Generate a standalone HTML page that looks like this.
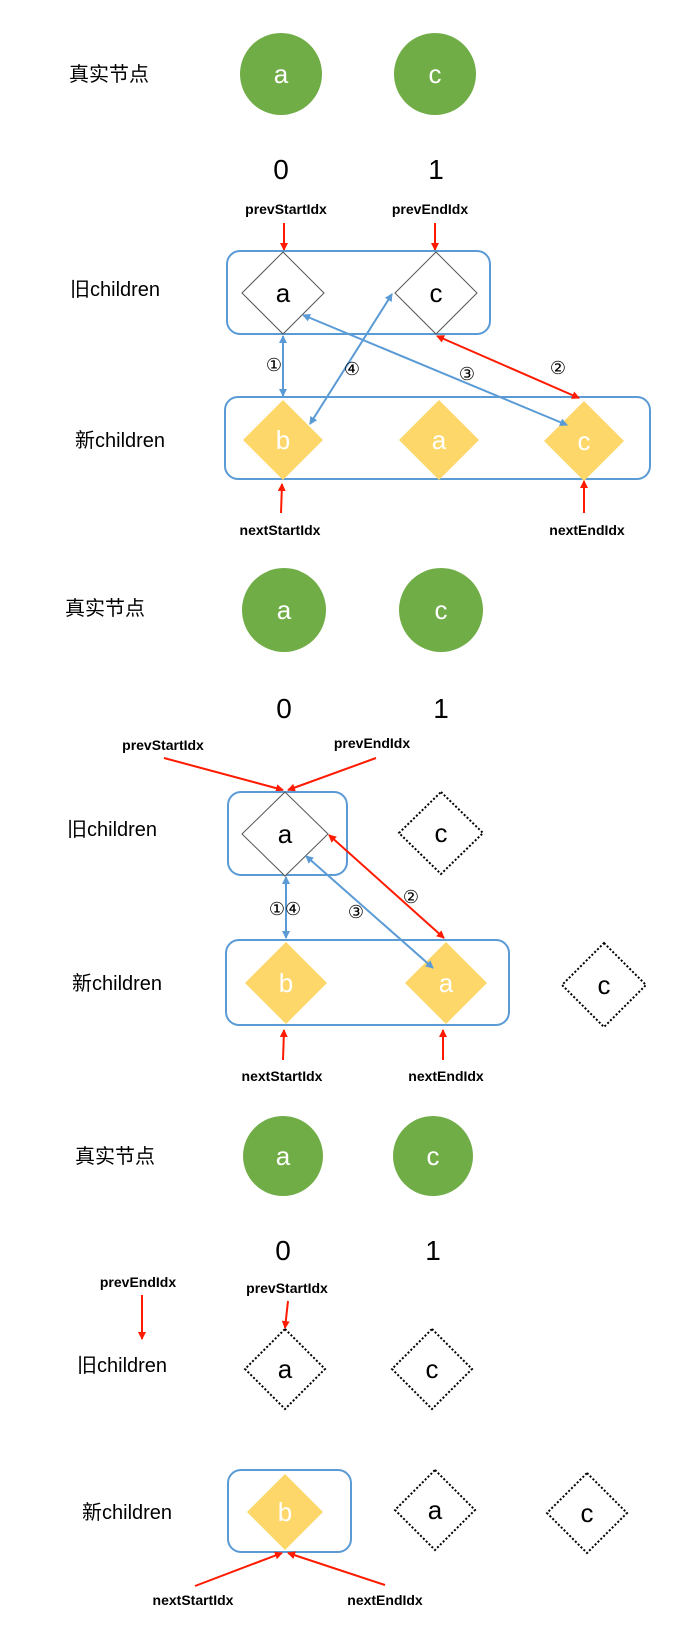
<!DOCTYPE html>
<html><head><meta charset="utf-8"><style>
html,body{margin:0;padding:0;background:#fff;}
svg{display:block;}
.cn{font-family:"Liberation Sans","Noto Sans CJK SC",sans-serif;font-size:20px;fill:#000;}
.lb{font-family:"Liberation Sans",sans-serif;font-weight:bold;font-size:14px;fill:#000;text-anchor:middle;}
.num{font-family:"Liberation Sans",sans-serif;font-size:28px;fill:#000;text-anchor:middle;}
.wt{font-family:"Liberation Sans",sans-serif;font-size:26px;fill:#fff;text-anchor:middle;}
.bk{font-family:"Liberation Sans",sans-serif;font-size:26px;fill:#000;text-anchor:middle;}
.ci{font-family:"DejaVu Sans","Noto Sans CJK SC",sans-serif;font-size:18px;fill:#000;text-anchor:middle;}
.box{fill:none;stroke:#5b9bd5;stroke-width:2;}
.od{fill:#fff;stroke:#555;stroke-width:1;}
.dd{fill:#fff;stroke:#000;stroke-width:2;stroke-dasharray:2 2;}
.yd{fill:#fdd76a;}
.r{stroke:#ff1a00;stroke-width:2;fill:none;}
.b{stroke:#5b9bd5;stroke-width:2;fill:none;}
</style></head><body>
<svg width="690" height="1649" viewBox="0 0 690 1649" xmlns="http://www.w3.org/2000/svg">
<defs>
<marker id="ar" markerWidth="8" markerHeight="8" refX="7" refY="4" orient="auto" markerUnits="userSpaceOnUse"><path d="M0,0 L8,4 L0,8 z" fill="#ff1a00"/></marker>
<marker id="ab" markerWidth="8" markerHeight="8" refX="7" refY="4" orient="auto" markerUnits="userSpaceOnUse"><path d="M0,0 L8,4 L0,8 z" fill="#5b9bd5"/></marker>
<marker id="abs" markerWidth="8" markerHeight="8" refX="1" refY="4" orient="auto" markerUnits="userSpaceOnUse"><path d="M8,0 L0,4 L8,8 z" fill="#5b9bd5"/></marker>
<marker id="ars" markerWidth="8" markerHeight="8" refX="1" refY="4" orient="auto" markerUnits="userSpaceOnUse"><path d="M8,0 L0,4 L8,8 z" fill="#ff1a00"/></marker>
</defs>

<!-- Section 1 -->
<text class="cn" x="69" y="81">真实节点</text>
<circle cx="281" cy="74" r="41" fill="#70ad47"/><text class="wt" x="281" y="83">a</text>
<circle cx="435" cy="74" r="41" fill="#70ad47"/><text class="wt" x="435" y="83">c</text>
<text class="num" x="281" y="179">0</text><text class="num" x="436" y="179">1</text>
<text class="lb" x="286" y="214">prevStartIdx</text>
<text class="lb" x="430" y="214">prevEndIdx</text>
<line class="r" x1="284" y1="223" x2="284" y2="250" marker-end="url(#ar)"/>
<line class="r" x1="435" y1="223" x2="435" y2="250" marker-end="url(#ar)"/>
<text class="cn" x="70" y="296">旧children</text>
<rect class="box" x="227" y="251" width="263" height="83" rx="13"/>
<polygon class="od" points="283,252 324,293 283,334 242,293"/><text class="bk" x="283" y="302">a</text>
<polygon class="od" points="436,252 477,293 436,334 395,293"/><text class="bk" x="436" y="302">c</text>
<text class="cn" x="75" y="447">新children</text>
<rect class="box" x="225" y="397" width="425" height="82" rx="13"/>
<polygon class="yd" points="283,400 323,440 283,480 243,440"/><text class="wt" x="283" y="449">b</text>
<polygon class="yd" points="439,400 479,440 439,480 399,440"/><text class="wt" x="439" y="449">a</text>
<polygon class="yd" points="584,401 624,441 584,481 544,441"/><text class="wt" x="584" y="450">c</text>
<line class="b" x1="283" y1="336" x2="283" y2="396" marker-start="url(#abs)" marker-end="url(#ab)"/>
<line class="b" x1="392" y1="294" x2="310" y2="424" marker-start="url(#abs)" marker-end="url(#ab)"/>
<line class="b" x1="303" y1="315" x2="567" y2="425" marker-start="url(#abs)" marker-end="url(#ab)"/>
<line class="r" x1="437" y1="336" x2="579" y2="398" marker-start="url(#ars)" marker-end="url(#ar)"/>
<text class="ci" x="274" y="371">①</text>
<text class="ci" x="352" y="375">④</text>
<text class="ci" x="467" y="380">③</text>
<text class="ci" x="558" y="374">②</text>
<line class="r" x1="281" y1="513" x2="282" y2="484" marker-end="url(#ar)"/>
<line class="r" x1="584" y1="513" x2="584" y2="481" marker-end="url(#ar)"/>
<text class="lb" x="280" y="535">nextStartIdx</text>
<text class="lb" x="587" y="535">nextEndIdx</text>

<!-- Section 2 -->
<text class="cn" x="65" y="615">真实节点</text>
<circle cx="284" cy="610" r="42" fill="#70ad47"/><text class="wt" x="284" y="619">a</text>
<circle cx="441" cy="610" r="42" fill="#70ad47"/><text class="wt" x="441" y="619">c</text>
<text class="num" x="284" y="718">0</text><text class="num" x="441" y="718">1</text>
<text class="lb" x="163" y="750">prevStartIdx</text>
<text class="lb" x="372" y="748">prevEndIdx</text>
<line class="r" x1="164" y1="758" x2="283" y2="790" marker-end="url(#ar)"/>
<line class="r" x1="376" y1="758" x2="288" y2="790" marker-end="url(#ar)"/>
<text class="cn" x="67" y="836">旧children</text>
<rect class="box" x="228" y="792" width="119" height="83" rx="13"/>
<polygon class="od" points="285,792 328,834 285,876 242,834"/><text class="bk" x="285" y="843">a</text>
<polygon class="dd" points="441,792 483,833 441,874 399,833"/><text class="bk" x="441" y="842">c</text>
<text class="cn" x="72" y="990">新children</text>
<rect class="box" x="226" y="940" width="283" height="85" rx="13"/>
<polygon class="yd" points="286,942 327,983 286,1024 245,983"/><text class="wt" x="286" y="992">b</text>
<polygon class="yd" points="446,942 487,983 446,1024 405,983"/><text class="wt" x="446" y="992">a</text>
<polygon class="dd" points="604,943 646,985 604,1027 562,985"/><text class="bk" x="604" y="994">c</text>
<line class="b" x1="286" y1="877" x2="286" y2="938" marker-start="url(#abs)" marker-end="url(#ab)"/>
<line class="b" x1="306" y1="856" x2="433" y2="968" marker-start="url(#abs)" marker-end="url(#ab)"/>
<line class="r" x1="329" y1="835" x2="444" y2="938" marker-start="url(#ars)" marker-end="url(#ar)"/>
<text class="ci" x="285" y="915">①④</text>
<text class="ci" x="356" y="918">③</text>
<text class="ci" x="411" y="903">②</text>
<line class="r" x1="283" y1="1060" x2="284" y2="1030" marker-end="url(#ar)"/>
<line class="r" x1="443" y1="1060" x2="443" y2="1030" marker-end="url(#ar)"/>
<text class="lb" x="282" y="1081">nextStartIdx</text>
<text class="lb" x="446" y="1081">nextEndIdx</text>

<!-- Section 3 -->
<text class="cn" x="75" y="1163">真实节点</text>
<circle cx="283" cy="1156" r="40" fill="#70ad47"/><text class="wt" x="283" y="1165">a</text>
<circle cx="433" cy="1156" r="40" fill="#70ad47"/><text class="wt" x="433" y="1165">c</text>
<text class="num" x="283" y="1260">0</text><text class="num" x="433" y="1260">1</text>
<text class="lb" x="138" y="1287">prevEndIdx</text>
<line class="r" x1="142" y1="1295" x2="142" y2="1339" marker-end="url(#ar)"/>
<text class="lb" x="287" y="1293">prevStartIdx</text>
<line class="r" x1="288" y1="1301" x2="285" y2="1328" marker-end="url(#ar)"/>
<text class="cn" x="77" y="1372">旧children</text>
<polygon class="dd" points="285,1329 325,1369 285,1409 245,1369"/><text class="bk" x="285" y="1378">a</text>
<polygon class="dd" points="432,1329 472,1369 432,1409 392,1369"/><text class="bk" x="432" y="1378">c</text>
<text class="cn" x="82" y="1519">新children</text>
<rect class="box" x="228" y="1470" width="123" height="82" rx="13"/>
<polygon class="yd" points="285,1474 323,1512 285,1550 247,1512"/><text class="wt" x="285" y="1521">b</text>
<polygon class="dd" points="435,1470 475,1510 435,1550 395,1510"/><text class="bk" x="435" y="1519">a</text>
<polygon class="dd" points="587,1473 627,1513 587,1553 547,1513"/><text class="bk" x="587" y="1522">c</text>
<line class="r" x1="195" y1="1586" x2="282" y2="1553" marker-end="url(#ar)"/>
<line class="r" x1="385" y1="1585" x2="288" y2="1553" marker-end="url(#ar)"/>
<text class="lb" x="193" y="1605">nextStartIdx</text>
<text class="lb" x="385" y="1605">nextEndIdx</text>
</svg>
</body></html>
